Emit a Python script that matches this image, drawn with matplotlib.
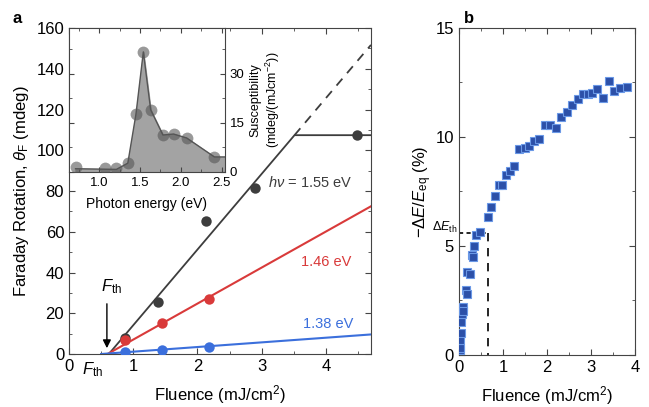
import matplotlib
matplotlib.use('Agg')
import matplotlib.pyplot as plt
from matplotlib.ticker import MultipleLocator

plt.rcParams['font.family'] = ['Liberation Sans', 'DejaVu Sans']
plt.rcParams['mathtext.fontset'] = 'custom'
plt.rcParams['mathtext.rm'] = 'Liberation Sans'
plt.rcParams['mathtext.it'] = 'Liberation Sans:italic'

DARK = '#3d3d3d'
RED = '#d93a3a'
BLUE = '#3b6fdc'

# ---- panel a: Faraday rotation vs fluence ----
f_155 = [0.87, 1.39, 2.14, 2.89, 4.48]
rot_155 = [8.0, 25.4, 65.2, 81.4, 107.4]
f_146 = [0.87, 1.44, 2.18]
rot_146 = [6.9, 15.4, 27.0]
f_138 = [0.87, 1.45, 2.18]
rot_138 = [1.1, 2.0, 3.6]

# fit lines (threshold -> end)
fit_155_x = [0.62, 3.51, 4.7]
fit_155_y = [0.0, 107.4, 107.4]
fit_155_dash_x = [3.51, 4.7]
fit_155_dash_y = [107.4, 151.7]
fit_146_x = [0.6, 4.7]
fit_146_y = [0.0, 72.5]
fit_138_x = [0.5, 4.7]
fit_138_y = [0.0, 9.6]

# ---- inset: susceptibility vs photon energy ----
inset_e = [0.71, 1.07, 1.21, 1.35, 1.45, 1.54, 1.63, 1.78, 1.91, 2.07, 2.41]
inset_s = [1.6, 1.2, 1.2, 2.7, 17.7, 36.7, 19.0, 11.3, 11.6, 10.4, 4.6]
inset_line_e = [0.71, 1.21, 1.35, 1.45, 1.54, 1.63, 1.78, 1.91, 2.07, 2.41, 2.54]
inset_line_s = [1.0, 0.8, 2.7, 17.7, 36.7, 19.0, 11.3, 11.6, 10.4, 4.6, 4.6]

# ---- panel b: -dE/E_eq vs fluence ----
f_b = [0.02, 0.03, 0.03, 0.04, 0.05, 0.07, 0.10, 0.10, 0.15, 0.18, 0.19, 0.25,
       0.30, 0.33, 0.35, 0.39, 0.48, 0.67, 0.73, 0.82, 0.91, 0.97, 1.07, 1.16,
       1.26, 1.37, 1.49, 1.60, 1.71, 1.83, 1.95, 2.08, 2.20, 2.33, 2.45, 2.58,
       2.71, 2.83, 2.94, 3.03, 3.13, 3.27, 3.40, 3.53, 3.66, 3.81]
de_b = [0.23, 0.33, 0.7, 1.0, 1.5, 1.9, 2.2, 2.0, 3.0, 2.8, 3.8, 3.7,
        4.6, 4.5, 5.0, 5.5, 5.65, 6.35, 6.8, 7.3, 7.8, 7.8, 8.25, 8.45,
        8.65, 9.45, 9.5, 9.6, 9.8, 9.9, 10.55, 10.55, 10.4, 10.9, 11.15, 11.45,
        11.75, 11.95, 11.95, 12.0, 12.2, 11.8, 12.55, 12.1, 12.25, 12.3]
f_th_b = 0.66
de_th = 5.6

fig = plt.figure(figsize=(6.49, 4.07), dpi=100)

ax = fig.add_axes([0.1063, 0.1302, 0.4653, 0.801])
ax.plot(fit_155_x, fit_155_y, color=DARK, lw=1.3, zorder=2)
ax.plot(fit_155_dash_x, fit_155_dash_y, color=DARK, lw=1.3, ls=(0, (5, 4)), zorder=2)
ax.plot(fit_146_x, fit_146_y, color=RED, lw=1.5, zorder=2)
ax.plot(fit_138_x, fit_138_y, color=BLUE, lw=1.5, zorder=2)
ax.plot(f_155, rot_155, 'o', color=DARK, ms=7.5, mec='none', zorder=3)
ax.plot(f_146, rot_146, 'o', color=RED, ms=7.5, mec='none', zorder=4)
ax.plot(f_138, rot_138, 'o', color=BLUE, ms=7.5, mec='none', zorder=4)

ax.text(3.76, 84, r'$h\nu$ = 1.55 eV', color=DARK, fontsize=10.5, ha='center', va='center')
ax.text(4.0, 45, '1.46 eV', color=RED, fontsize=10.5, ha='center', va='center')
ax.text(4.03, 14.7, '1.38 eV', color=BLUE, fontsize=10.5, ha='center', va='center')
ax.text(0.67, 33, r'$F_{\rm th}$', fontsize=12, ha='center', va='center')
ax.annotate('', xy=(0.59, 1.5), xytext=(0.59, 26),
            arrowprops=dict(arrowstyle='-|>', color='black', lw=1.0, mutation_scale=12))
ax.text(0.37, -3, r'$F_{\rm th}$', fontsize=12, ha='center', va='top')

ax.set_xlim(0, 4.7)
ax.set_ylim(0, 160)
ax.xaxis.set_major_locator(MultipleLocator(1))
ax.xaxis.set_minor_locator(MultipleLocator(0.5))
ax.yaxis.set_major_locator(MultipleLocator(20))
ax.yaxis.set_minor_locator(MultipleLocator(10))
ax.tick_params(which='both', direction='in', top=True, right=True, labelsize=12, color='#444444')
ax.tick_params(which='major', length=4)
ax.tick_params(which='minor', length=2.5)
ax.set_xlabel('Fluence (mJ/cm$^2$)', fontsize=12, labelpad=7)
ax.set_ylabel(r'Faraday Rotation, $\theta_{\rm F}$ (mdeg)', fontsize=12)
for s in ax.spines.values():
    s.set_color('#444444')

# inset
axi = fig.add_axes([0.1063, 0.5774, 0.2404, 0.3538])
axi.fill_between(inset_line_e, inset_line_s, 0, color='#a3a3a3', zorder=1)
axi.plot(inset_line_e, inset_line_s, color='#555555', lw=1.0, zorder=2)
axi.plot(inset_e, inset_s, 'o', color='#555555', alpha=0.6, ms=8.5, mec='none', zorder=3)
axi.set_xlim(0.63, 2.54)
axi.set_ylim(0, 44)
axi.xaxis.set_major_locator(MultipleLocator(0.5))
axi.xaxis.set_minor_locator(MultipleLocator(0.25))
axi.yaxis.set_major_locator(MultipleLocator(15))
axi.yaxis.set_minor_locator(MultipleLocator(7.5))
axi.yaxis.tick_right()
axi.yaxis.set_label_position('right')
axi.tick_params(which='both', direction='in', top=True, left=True, right=True,
                labelleft=False, labelright=True, labelsize=9.5, color='#444444')
axi.tick_params(which='major', length=3.5)
axi.tick_params(which='minor', length=2)
axi.set_xlabel('Photon energy (eV)', fontsize=10, labelpad=6)
axi.set_ylabel('Susceptibility\n(mdeg/(mJcm$^{-2}$))', fontsize=9, labelpad=3)
axi.set_facecolor('white')
for s in axi.spines.values():
    s.set_color('#444444')

fig.text(0.026, 0.955, 'a', fontsize=12, fontweight='bold', ha='center', va='center')

# panel b
axb = fig.add_axes([0.7072, 0.1278, 0.2712, 0.8034])
axb.plot([0, f_th_b], [de_th, de_th], color='black', lw=1.2, ls=(0, (2.5, 2)), zorder=1)
axb.plot([f_th_b, f_th_b], [de_th, 0], color='black', lw=1.2, ls=(0, (5, 4)), zorder=1)
axb.plot(f_b, de_b, 's', color='#2c50a8', mec='#6a98e6', mew=0.8, ms=5.5, zorder=3)
axb.text(-0.03, de_th + 0.25, r'$\Delta E_{\rm th}$', fontsize=9, ha='right', va='center')
axb.set_xlim(0, 4)
axb.set_ylim(0, 15)
axb.xaxis.set_major_locator(MultipleLocator(1))
axb.xaxis.set_minor_locator(MultipleLocator(0.5))
axb.yaxis.set_major_locator(MultipleLocator(5))
axb.yaxis.set_minor_locator(MultipleLocator(2.5))
axb.tick_params(which='both', direction='in', top=True, right=True, labelsize=12, color='#444444')
axb.tick_params(which='major', length=4)
axb.tick_params(which='minor', length=2.5)
axb.set_xlabel('Fluence (mJ/cm$^2$)', fontsize=12, labelpad=7)
axb.set_ylabel(r'$-\Delta E/E_{\rm eq}$ (%)', fontsize=12, labelpad=1)
for s in axb.spines.values():
    s.set_color('#444444')

fig.text(0.722, 0.955, 'b', fontsize=12, fontweight='bold', ha='center', va='center')

fig.savefig('out.png', dpi=100)
